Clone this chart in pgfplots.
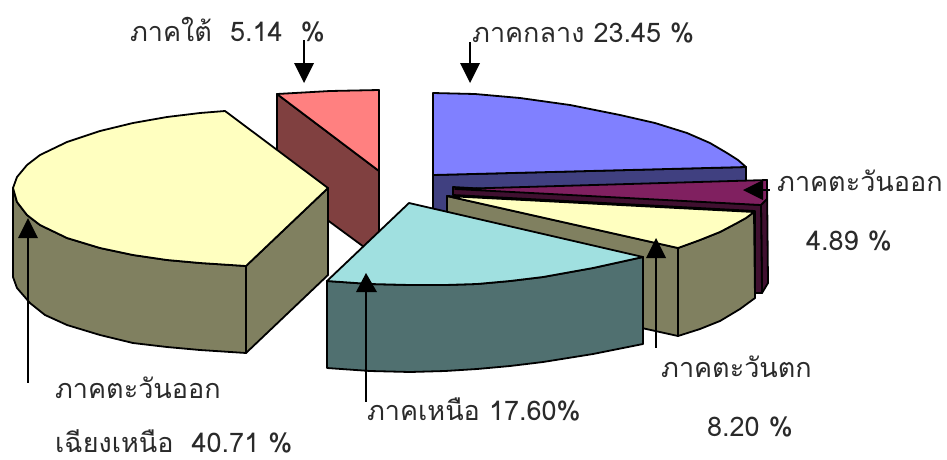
\documentclass[border=0pt]{standalone}
\usepackage{fontspec}
\setmainfont[Script=Thai]{Loma}
\usepackage{pgfplots}
\pgfplotsset{compat=1.18}
\definecolor{cblue}{HTML}{8080FF}\definecolor{dblue}{HTML}{404080}
\definecolor{cpur}{HTML}{802060}\definecolor{dpur}{HTML}{401030}
\definecolor{cyel}{HTML}{FFFFC0}\definecolor{dyel}{HTML}{808060}
\definecolor{ctea}{HTML}{A0E0E0}\definecolor{dtea}{HTML}{507070}
\definecolor{cred}{HTML}{FF8080}\definecolor{dred}{HTML}{804040}
\definecolor{txt}{HTML}{2A2A2A}
\tikzset{
  slice/.style={draw=black,line width=1.8pt,line join=round,mark=none},
  arrowline/.style={draw=black,line width=1.2pt,mark=none},
  arrowhead/.style={draw=none,fill=black,mark=none},
  lab/.style={anchor=base west,inner sep=0pt,font=\fontsize{27}{30}\selectfont,text=txt}}
\begin{document}
\begin{tikzpicture}[x=1pt,y=1pt]
\begin{axis}[hide axis,scale only axis,width=947pt,height=459pt,xmin=0,xmax=947,ymin=0,ymax=459,y dir=reverse,clip=false]
% south slice
\addplot[slice,fill=dred] coordinates {(277,94)(379,171)(379,258)(277,183)} --cycle;
\addplot[slice,fill=cred] coordinates {(277,94)(330,91)(379,90)(379,171)} --cycle;
% central slice
\addplot[slice,fill=dblue] coordinates {(433,175)(746,167)(746,181)(433,215)} --cycle;
\addplot[slice,fill=cblue] coordinates {(433,93)(475,94)(520,98)(570,105)(620,115)(655,123)(687,133)(710,143)(727,153)(738,160)(746,167)(433,175)} --cycle;
% east slice
\addplot[slice,fill=dpur] coordinates {(767,180)(768,283)(762,293)(761,205)} --cycle;
\addplot[slice,fill=dpur] coordinates {(453,187)(453,195)(755,211)(755,293)(762,293)(761,205)} --cycle;
\addplot[slice,fill=cpur] coordinates {(455,189)(767,180)(767,199)(761,205)} --cycle;
% west slice
\addplot[slice,fill=dyel] coordinates {(447,196)(678,248)(678,336)(447,285)} --cycle;
\addplot[slice,fill=dyel] coordinates {(678,248)(700,240)(720,232)(737,223)(746,218)(754,212)(755,298)(740,309)(720,321)(700,329)(678,336)} --cycle;
\addplot[slice,fill=cyel] coordinates {(447,196)(754,212)(746,218)(737,223)(720,232)(700,240)(678,248)} --cycle;
% north slice
\addplot[slice,fill=dtea] coordinates {(327,281)(370,284)(410,285)(445,285)(477,284)(510,281)(543,277)(593,268)(643,257)(643,344)(593,354)(543,362)(510,366)(477,369)(445,371)(410,372)(370,371)(327,368)} --cycle;
\addplot[slice,fill=ctea] coordinates {(409,203)(643,257)(593,268)(543,277)(510,281)(477,284)(445,285)(410,285)(370,284)(327,281)} --cycle;
% north-east slice
\addplot[slice,fill=dyel] coordinates {(13,188)(17,202)(27,215)(40,225)(67,238)(100,248)(133,255)(167,260)(200,263)(246,266)(246,353)(200,350)(167,347)(133,343)(100,335)(67,325)(45,315)(30,303)(17,288)(13,277)} --cycle;
\addplot[slice,fill=dyel] coordinates {(246,266)(328,188)(328,275)(246,353)} --cycle;
\addplot[slice,fill=cyel] coordinates {(225,111)(328,188)(246,266)(200,263)(167,260)(133,255)(100,248)(67,238)(40,225)(27,215)(17,202)(13,188)(17,177)(27,165)(40,155)(67,142)(100,131)(133,123)(167,117)(200,113)} --cycle;
% arrows
\addplot[arrowline] coordinates {(470,42)(470,65)};
\addplot[arrowhead] coordinates {(460,63)(480,63)(470,83)} --cycle;
\addplot[arrowline] coordinates {(304,40)(304,65)};
\addplot[arrowhead] coordinates {(294,63)(314,63)(304,83)} --cycle;
\addplot[arrowline] coordinates {(760,190)(770,190)};
\addplot[arrowhead] coordinates {(763,180)(763,200)(743,190)} --cycle;
\addplot[arrowline] coordinates {(656,256)(656,348)};
\addplot[arrowhead] coordinates {(646,258)(666,258)(656,238)} --cycle;
\addplot[arrowline] coordinates {(366,290)(366,402)};
\addplot[arrowhead] coordinates {(356,292)(377,292)(366,273)} --cycle;
\addplot[arrowline] coordinates {(28,236)(28,383)};
\addplot[arrowhead] coordinates {(18,238)(38,238)(28,218)} --cycle;
% labels
\node[lab] at (axis cs:130,41) {ภาคใต้\ \ 5.14\ \ \%};
\node[lab] at (axis cs:472,42) {ภาคกลาง 23.45 \%};
\node[lab] at (axis cs:777,191) {ภาคตะวันออก};
\node[lab] at (axis cs:806,250) {4.89 \%};
\node[lab] at (axis cs:661,377) {ภาคตะวันตก};
\node[lab] at (axis cs:707,436) {8.20 \%};
\node[lab] at (axis cs:367,420) {ภาคเหนือ 17.60\%};
\node[lab] at (axis cs:55,398) {ภาคตะวันออก};
\node[lab] at (axis cs:55,452) {เฉียงเหนือ\ \ 40.71 \%};
\end{axis}
\pgfresetboundingbox
\path[use as bounding box] (0,0) rectangle (947pt,459pt);
\end{tikzpicture}
\end{document}
